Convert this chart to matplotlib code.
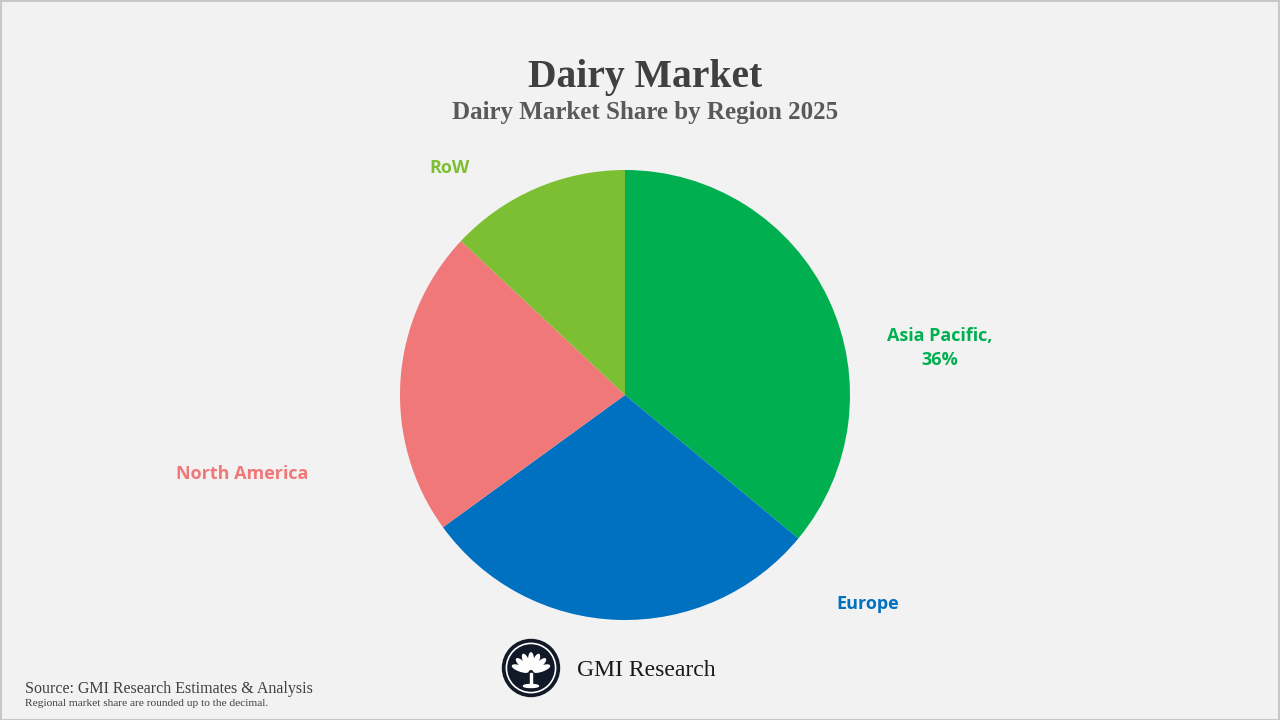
import matplotlib
matplotlib.use("Agg")
import matplotlib.pyplot as plt
from matplotlib.patches import Circle, Ellipse, Rectangle
import numpy as np

# data
regions = ["Asia Pacific", "Europe", "North America", "RoW"]
shares = [36, 29, 22, 13]
colors = ["#00b050", "#0070c0", "#f07878", "#7dbf33"]
label_text = ["Asia Pacific,\n36%", "Europe", "North America", "RoW"]
label_pos = [(1.40, 0.21), (1.08, -0.93), (-1.70, -0.35), (-0.78, 1.01)]

title = "Dairy Market"
subtitle = "Dairy Market Share by Region 2025"
source = "Source: GMI Research Estimates & Analysis"
note = "Regional market share are rounded up to the decimal."

bg = "#f2f2f2"
serif = ["Liberation Serif", "DejaVu Serif"]

fig = plt.figure(figsize=(12.8, 7.2), dpi=100, facecolor=bg)

# pie, centre (625,395) r=225 px
ax = fig.add_axes([400 / 1280, 100 / 720, 450 / 1280, 450 / 720])
ax.set_facecolor(bg)
ax.pie(shares, colors=colors, startangle=90, counterclock=False,
       radius=1, wedgeprops=dict(linewidth=0))
ax.set_xlim(-1, 1)
ax.set_ylim(-1, 1)
ax.axis("off")

for txt, (x, y), c in zip(label_text, label_pos, colors):
    ax.text(x, y, txt, ha="center", va="center", color=c, fontsize=13,
            fontweight="bold", family=["Open Sans", "DejaVu Sans"],
            linespacing=1.45, clip_on=False)

fig.text(645.5 / 1280, 1 - 78 / 720, title, ha="center", va="center",
         fontsize=28.5, fontweight="bold", color="#404040", family=serif)
fig.text(645.5 / 1280, 1 - 113 / 720, subtitle, ha="center", va="center",
         fontsize=18, fontweight="bold", color="#595959", family=serif)

fig.text(25 / 1280, 1 - 689 / 720, source, ha="left", va="center",
         fontsize=11.5, color="#404040", family=serif)
fig.text(25 / 1280, 1 - 704 / 720, note, ha="left", va="center",
         fontsize=8.2, color="#404040", family=serif)

# logo
lax = fig.add_axes([(531 - 30) / 1280, (720 - 668 - 30) / 720, 60 / 1280, 60 / 720])
lax.set_xlim(-1, 1)
lax.set_ylim(-1, 1)
lax.set_aspect("equal")
lax.axis("off")
lax.add_patch(Circle((0, 0), 0.95, color="#111827"))
lax.add_patch(Circle((0, 0), 0.82, fill=False, ec="white", lw=1.2))
for ang in np.linspace(20, 160, 7):
    a = np.radians(ang)
    lax.add_patch(Ellipse((0.38 * np.cos(a), -0.15 + 0.38 * np.sin(a)), 0.55, 0.16,
                          angle=ang, color="white"))
lax.add_patch(Rectangle((-0.04, -0.6), 0.08, 0.45, color="white"))
lax.add_patch(Ellipse((0, -0.6), 0.5, 0.1, color="white"))

fig.text(577 / 1280, 1 - 670 / 720, "GMI Research", ha="left", va="center",
         fontsize=17, color="#1a1a1a", family=serif)

# border
fig.add_artist(Rectangle((0.5 / 1280, 0.5 / 720), 1 - 1.5 / 1280, 1 - 1.5 / 720,
                         transform=fig.transFigure, fill=False,
                         ec="#c8c8c8", lw=1.5))

fig.savefig("out.png", dpi=100, facecolor=bg)
